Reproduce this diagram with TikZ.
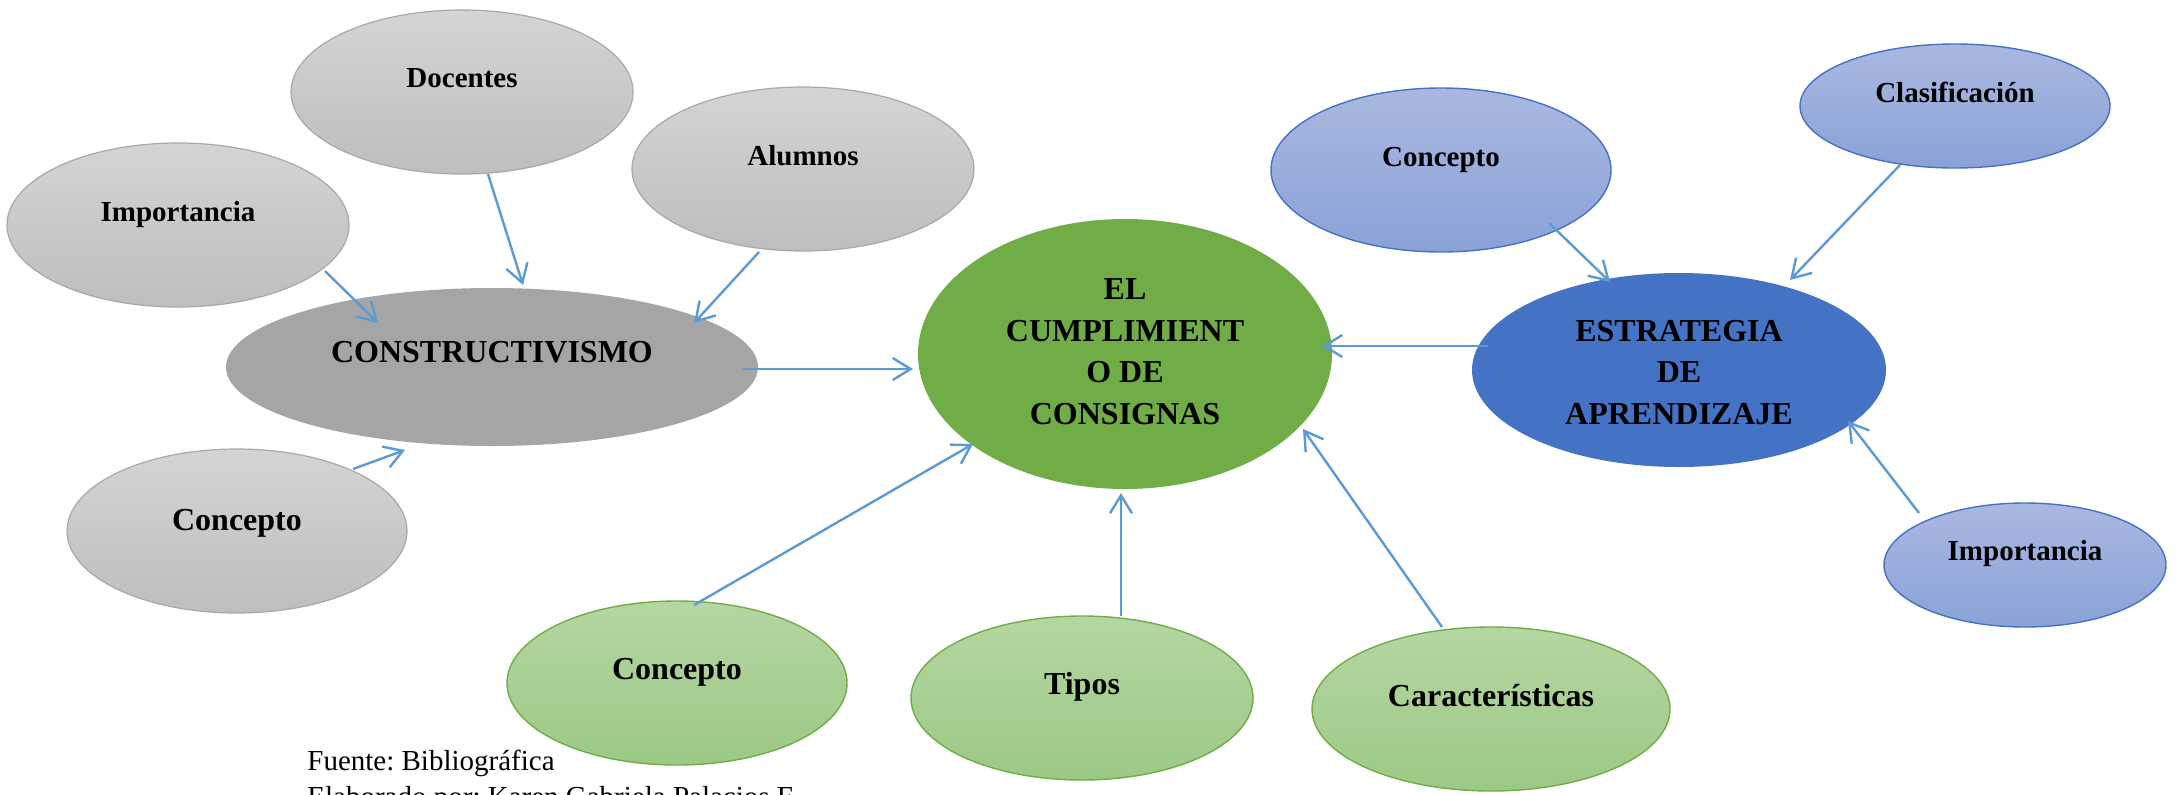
\documentclass[tikz,border=0pt]{standalone}
\usepackage{fontspec}
\setmainfont{Liberation Serif}
\usetikzlibrary{shapes.geometric,arrows.meta,calc}
\definecolor{arrowblue}{HTML}{5B9BD5}
\definecolor{grayedge}{HTML}{A8A8A8}
\definecolor{graytop}{HTML}{D4D4D4}
\definecolor{graybot}{HTML}{BEBEBE}
\definecolor{darkgrayfill}{HTML}{A5A5A5}
\definecolor{maingreen}{HTML}{70AD47}
\definecolor{greentop}{HTML}{B5D6A2}
\definecolor{greenbot}{HTML}{9CC985}
\definecolor{darkblue}{HTML}{4472C4}
\definecolor{bluetop}{HTML}{AAB8E0}
\definecolor{bluebot}{HTML}{8AA2D7}
\tikzset{
  sz/.style 2 args={minimum width=#1pt, minimum height=#2pt},
  bub/.style={ellipse, inner sep=0pt},
  grayb/.style={bub, draw=grayedge, line width=0.6pt, top color=graytop, bottom color=graybot},
  graydark/.style={bub, fill=darkgrayfill},
  greenmain/.style={bub, fill=maingreen},
  greenb/.style={bub, draw=maingreen, line width=0.7pt, top color=greentop, bottom color=greenbot},
  bluemain/.style={bub, fill=darkblue},
  blueb/.style={bub, draw=darkblue, line width=0.7pt, top color=bluetop, bottom color=bluebot},
  lbl/.style={font=\bfseries\fontsize{14.5}{17}\selectfont, anchor=base, inner sep=0pt},
  lblbig/.style={font=\bfseries\fontsize{16}{19}\selectfont, anchor=base, inner sep=0pt},
  lblmulti/.style={font=\bfseries\fontsize{16}{20.75}\selectfont, align=center, anchor=center, inner sep=0pt},
  conn/.style={draw=arrowblue, line width=1.2pt, -{Straight Barb[length=9pt,width=11pt]}},
  note/.style={font=\fontsize{14.5}{18}\selectfont\frenchspacing, anchor=base west, inner sep=0pt}
}
\begin{document}
\begin{tikzpicture}[x=0.5pt,y=-0.5pt]
\useasboundingbox (0,0) rectangle (2179,794);
% nodes
\node[grayb, sz={171}{82}] (doc) at (462,92) {};
\node[grayb, sz={171}{82}] (impG) at (178,225) {};
\node[grayb, sz={171}{82}] (alu) at (803,169) {};
\node[graydark, sz={266}{79}] (cons) at (492,367) {};
\node[grayb, sz={170}{82}] (conG) at (237,531) {};
\node[greenmain, sz={207}{135}] (main) at (1125,354) {};
\node[blueb, sz={170}{82}] (conB) at (1441,170) {};
\node[blueb, sz={155}{62}] (cla) at (1955,106) {};
\node[bluemain, sz={207}{97}] (est) at (1679,370) {};
\node[blueb, sz={141}{62}] (impB) at (2025,565) {};
\node[greenb, sz={170}{82}] (conV) at (677,683) {};
\node[greenb, sz={171}{82}] (tip) at (1082,698) {};
\node[greenb, sz={179}{82}] (car) at (1491,709) {};
% labels
\node[lbl] (docT) at ($(doc)+(0,-5)$) {Docentes};
\node[lbl] (impGT) at ($(impG)+(0,-4)$) {Importancia};
\node[lbl] (aluT) at ($(alu)+(0,-4)$) {Alumnos};
\node[lblbig] (consT) at ($(cons)+(0,-5)$) {CONSTRUCTIVISMO};
\node[lblbig] (conGT) at ($(conG)+(0,-1)$) {Concepto};
\node[lblmulti] (mainT) at ($(main)+(0,-2.5)$) {EL\\CUMPLIMIENT\\O DE\\CONSIGNAS};
\node[lbl] (conBT) at ($(conB)+(0,-4)$) {Concepto};
\node[lbl] (claT) at ($(cla)+(0,-4)$) {Clasificación};
\node[lblmulti] (estT) at ($(est)+(0,2.5)$) {ESTRATEGIA\\DE\\APRENDIZAJE};
\node[lbl] (impBT) at ($(impB)+(0,-5)$) {Importancia};
\node[lblbig] (conVT) at ($(conV)+(0,-4)$) {Concepto};
\node[lblbig] (tipT) at ($(tip)+(0,-4)$) {Tipos};
\node[lblbig] (carT) at ($(car)+(0,-3)$) {Características};
% connectors
\draw[conn] ($(impG)+(147,46)$) -- ($(cons)+(-114,-44)$);
\draw[conn] ($(doc)+(26,82)$) -- ($(cons)+(31,-82)$);
\draw[conn] ($(alu)+(-44,83)$) -- ($(cons)+(202,-44)$);
\draw[conn] ($(conG)+(116,-62)$) -- ($(cons)+(-87,83)$);
\draw[conn] ($(cons)+(251,2)$) -- ($(main)+(-212,15)$);
\draw[conn] ($(est)+(-191,-24)$) -- ($(main)+(197,-8)$);
\draw[conn] ($(conB)+(108,53)$) -- ($(est)+(-69,-88)$);
\draw[conn] ($(cla)+(-55,59)$) -- ($(est)+(111,-90)$);
\draw[conn] ($(impB)+(-106,-52)$) -- ($(est)+(169,51)$);
\draw[conn] ($(car)+(-49,-82)$) -- ($(main)+(178,75)$);
\draw[conn] ($(tip)+(39,-82)$) -- ($(main)+(-4,139)$);
\draw[conn] ($(conV)+(17,-78)$) -- ($(main)+(-152,90)$);
% source note
\node[note] (src) at (307,770) {Fuente: Bibliográfica};
\node[note] (auth) at (307,806) {Elaborado por: Karen Gabriela Palacios F};
\end{tikzpicture}
\end{document}
